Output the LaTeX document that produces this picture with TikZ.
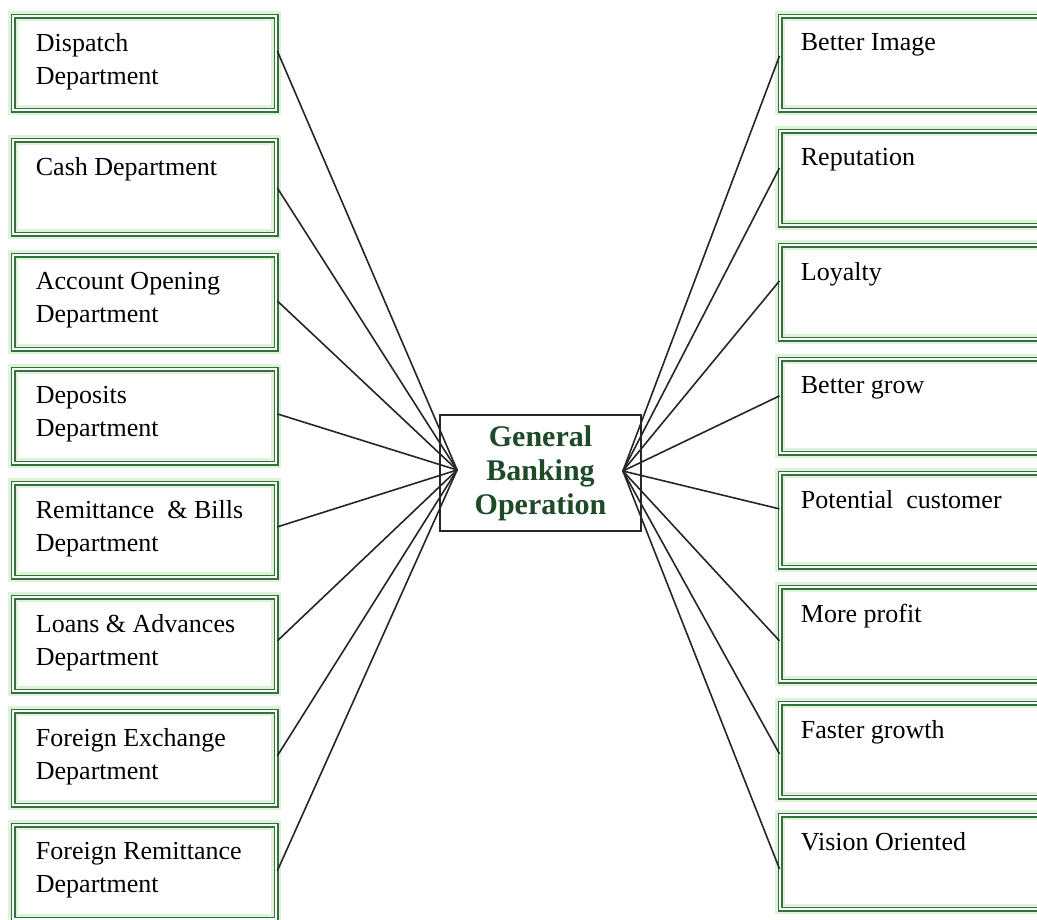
\documentclass[tikz,border=0pt]{standalone}
\usepackage{fontspec}
\setmainfont{Liberation Serif}
\usetikzlibrary{calc}
\definecolor{gline}{HTML}{357040}
\definecolor{gglow}{HTML}{DDF4D8}
\definecolor{ctext}{HTML}{1F4A28}
\newcommand{\ltxt}[1]{\parbox[t][60pt][t]{218pt}{\raggedright #1}}
\newcommand{\rtxt}[1]{\parbox[t][60pt][t]{239pt}{\raggedright #1}}
\tikzset{
  gbox/.style={draw=gline, double=white, double distance=2pt, line width=1.8pt,
    inner ysep=17pt, anchor=north west, font=\fontsize{26}{33}\selectfont,
    preaction={draw=gglow, line width=10pt}},
  lbox/.style={gbox, inner xsep=22.5pt},
  rbox/.style={gbox, inner xsep=20.5pt},
  cbox/.style={draw=black!85, line width=1.8pt, minimum width=201pt, minimum height=116pt,
    inner sep=0pt, align=center, text=ctext, font=\fontsize{30}{34}\selectfont\bfseries},
  conn/.style={draw=black!85, line width=1.6pt}
}
\begin{document}
\begin{tikzpicture}[x=1pt,y=-1pt]
\clip (0,0) rectangle (1037,920);
\fill[white] (0,0) rectangle (1037,920);
% left boxes
\node[lbox] (L1) at (12.5,15.5)  {\ltxt{Dispatch\\Department}};
\node[lbox] (L2) at (12.5,139.5) {\ltxt{Cash Department}};
\node[lbox] (L3) at (12.5,254.5) {\ltxt{Account Opening\\Department}};
\node[lbox] (L4) at (12.5,368.5) {\ltxt{Deposits\\Department}};
\node[lbox] (L5) at (12.5,482.5) {\ltxt{Remittance~~\&~Bills\\Department}};
\node[lbox] (L6) at (12.5,596.5) {\ltxt{Loans \& Advances\\Department}};
\node[lbox] (L7) at (12.5,710.5) {\ltxt{Foreign Exchange\\Department}};
\node[lbox] (L8) at (12.5,824.5) {\ltxt{Foreign Remittance\\Department}};
% right boxes
\node[rbox] (R1) at (779.5,15.5)  {\rtxt{Better Image}};
\node[rbox] (R2) at (779.5,130.5) {\rtxt{Reputation}};
\node[rbox] (R3) at (779.5,244.5) {\rtxt{Loyalty}};
\node[rbox] (R4) at (779.5,358.5) {\rtxt{Better grow}};
\node[rbox] (R5) at (779.5,472.5) {\rtxt{Potential~~customer}};
\node[rbox] (R6) at (779.5,586.5) {\rtxt{More profit}};
\node[rbox] (R7) at (779.5,702.5) {\rtxt{Faster growth}};
\node[rbox] (R8) at (779.5,814.5) {\rtxt{Vision Oriented}};
% center
\node[cbox] (C) at (540.5,473) {General\\Banking\\Operation};
\coordinate (CL) at ($(C.west)+(18,-3)$);
\coordinate (CR) at ($(C.east)+(-19,-2)$);
% connectors left
\draw[conn] ($(L1.east)+(0,-12.5)$) -- (CL);
\draw[conn] ($(L2.east)+(0,0.5)$) -- (CL);
\draw[conn] ($(L3.east)+(0,-1.5)$) -- (CL);
\draw[conn] ($(L4.east)+(0,-2.5)$) -- (CL);
\draw[conn] ($(L5.east)+(0,-3.5)$) -- (CL);
\draw[conn] ($(L6.east)+(0,-3.5)$) -- (CL);
\draw[conn] ($(L7.east)+(0,-2.5)$) -- (CL);
\draw[conn] ($(L8.east)+(0,-1.5)$) -- (CL);
% connectors right
\draw[conn] (CR) -- ($(R1.west)+(0,-7.5)$);
\draw[conn] (CR) -- ($(R2.west)+(0,-10.5)$);
\draw[conn] (CR) -- ($(R3.west)+(0,-11.5)$);
\draw[conn] (CR) -- ($(R4.west)+(0,-10.5)$);
\draw[conn] (CR) -- ($(R5.west)+(0,-11.5)$);
\draw[conn] (CR) -- ($(R6.west)+(0,6.5)$);
\draw[conn] (CR) -- ($(R7.west)+(0,3.5)$);
\draw[conn] (CR) -- ($(R8.west)+(0,6.5)$);
\end{tikzpicture}
\end{document}
